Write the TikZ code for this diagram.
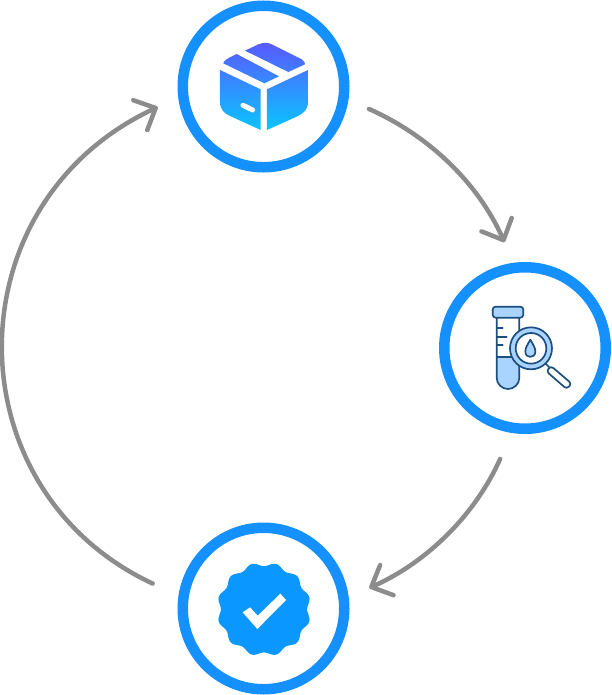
\documentclass[tikz,border=0pt]{standalone}
\usepackage{xcolor}
\usetikzlibrary{arrows.meta}
\definecolor{ringblue}{HTML}{1590FF}
\definecolor{arcgray}{HTML}{8C8C8C}
\definecolor{boxtop}{HTML}{5B58FF}
\definecolor{boxbottom}{HTML}{08C6FF}
\definecolor{tubeline}{HTML}{1B4F80}
\definecolor{tubefill}{HTML}{A9D4FF}
\definecolor{badgeblue}{HTML}{0A97FF}
\tikzset{
  ringnode/.style={circle, draw=ringblue, fill=white, line width=10.5pt, minimum size=161.5pt, inner sep=0pt, outer sep=27pt},
  arcflow/.style={draw=arcgray, line width=4.5pt, line cap=round, -{Straight Barb[length=17pt,width=33pt,round]}},
  tubestroke/.style={draw=tubeline, line width=1.7pt, line join=round, line cap=round}
}

\begin{document}
\begin{tikzpicture}[x=1pt,y=-1pt]
\useasboundingbox (0,0) rectangle (611,695);
% Rings
\node[ringnode] (pack) at (263.5,86.5) {};
\node[ringnode] (tube) at (525,348) {};
\node[ringnode] (check) at (263.5,608.5) {};
% Arcs between the rings
\draw[arcflow] (pack.-12) to[out=-24,in=114,looseness=0.88] (tube.101);
\draw[arcflow, shorten <=6pt] (tube.-102) to[out=-114,in=24,looseness=0.88] (check.11);
\draw[arcflow, shorten <=6pt] (check.168) to[out=155,in=-155,looseness=1.22] (pack.191);
% Box icon
\begin{scope}[shift={(170,0)},scale=0.3333]
\begin{scope}
\clip (225,152) -- (265,133) .. controls (285,126) and (295,128) .. (305,133) -- (395,178) .. controls (403,183) and (405,188) .. (405,193) -- (355,216) -- cycle
  (200,162) -- (327,229) -- (283,250) -- (160,190) .. controls (162,182) and (170,176) .. (200,162) -- cycle
  (150,210) -- (272,268) -- (272,390) -- (180,348) .. controls (160,338) and (150,328) .. (150,305) -- cycle
  (414,210) -- (291,268) -- (291,390) -- (380,350) .. controls (404,338) and (414,328) .. (414,305) -- cycle;
\shade[top color=boxtop, bottom color=boxbottom] (140,125) rectangle (420,392);
\end{scope}
\draw[white, line width=5pt, line cap=round] (219,316) -- (248,330);
\end{scope}
% Test tube icon
\begin{scope}[shift={(470,295)},scale=0.3333]
\fill[tubefill] (80,187) -- (148,187) -- (148,248) arc[start angle=0, end angle=180, radius=34] -- cycle;
\draw[tubestroke] (80,68) -- (80,248) arc[start angle=180, end angle=0, radius=34] -- (148,68);
\draw[tubestroke] (80,187) -- (148,187);
\draw[tubestroke] (80,100) -- (98,100) (80,125) -- (110,125) (80,150) -- (98,150);
\draw[tubestroke, fill=tubefill, rounded corners=3pt] (68,35) rectangle (160,68);
% Lens and handle
\draw[tubestroke] (226,205) -- (243,222);
\draw[tubestroke, fill=white, rounded corners=3pt] (243,213) -- (305,266) -- (290,282) -- (229,229) -- cycle;
\draw[tubestroke, fill=tubefill] (183,160) circle[radius=63];
\draw[tubestroke, fill=white] (183,160) circle[radius=46];
\draw[tubestroke, fill=tubefill] (181,134) .. controls (172,150) and (166,158) .. (166,170) .. controls (166,191) and (196,191) .. (196,170) .. controls (196,158) and (190,150) .. cycle;
\end{scope}
% Badge icon
\fill[badgeblue] plot[domain=0:360, samples=181, smooth] ({264+(45+1.9*cos(12*\x))*cos(\x+15)},{609.3+(45+1.9*cos(12*\x))*sin(\x+15)}) -- cycle;
\begin{scope}[shift={(205,550)},scale=0.3333]
\fill[white] (113,187) -- (135,172) -- (158,197) -- (226,131) -- (243,150) -- (157,237) -- cycle;
\end{scope}
\end{tikzpicture}
\end{document}
